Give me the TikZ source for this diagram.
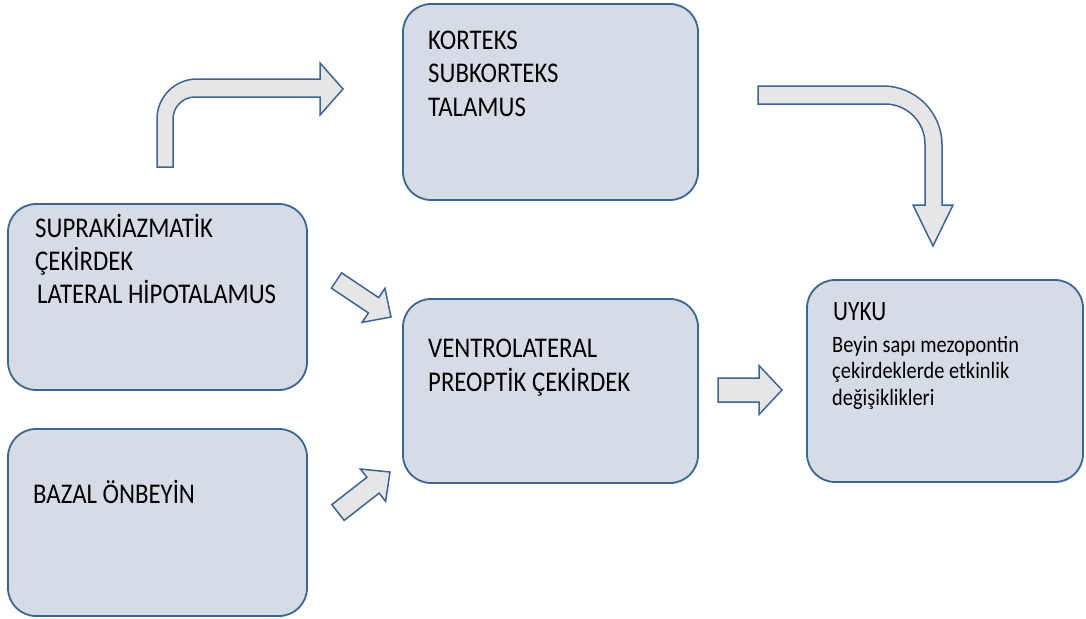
\documentclass[tikz,border=0pt]{standalone}
\usepackage{fontspec}
\setmainfont{Carlito}
\usetikzlibrary{calc}
\definecolor{boxfill}{HTML}{D6DCE5}
\definecolor{boxline}{HTML}{3C6692}
\definecolor{arrfill}{HTML}{E7E6E6}
\newcommand\sy[1]{\scalebox{1}[1.15]{#1}}
\newcommand\blockarrow[5]{%
  \path coordinate (hb) at ($(#2)!#5!(#1)$);
  \draw[arr] ($(#1)!#3!90:(#2)$) -- ($(hb)!#3!-90:(#1)$) -- ($(hb)!#4!-90:(#1)$) -- (#2)
     -- ($(hb)!#4!90:(#1)$) -- ($(hb)!#3!90:(#1)$) -- ($(#1)!#3!-90:(#2)$) -- cycle;}
\begin{document}
\begin{tikzpicture}[x=1pt,y=-1pt,
  box/.style={draw=boxline, line width=1.8pt, fill=boxfill, rounded corners=28pt, inner sep=0pt},
  arr/.style={draw=boxline, line width=1.5pt, fill=arrfill, line join=miter},
  big/.style={anchor=base west, inner sep=0pt, align=left, font=\fontsize{24.8}{33.8}\selectfont},
  mid/.style={anchor=base west, inner sep=0pt, align=left, font=\fontsize{23.3}{28}\selectfont},
  small/.style={anchor=base west, inner sep=0pt, align=left, font=\fontsize{20.4}{26.75}\selectfont}]
\useasboundingbox (0,0) rectangle (1086,618);
\fill[white] (0,0) rectangle (1086,618);

% boxes
\node[box, minimum width=295pt, minimum height=196pt] (kor) at (550.5,102) {};
\node[box, minimum width=299pt, minimum height=186pt] (sup) at (157.5,297) {};
\node[box, minimum width=299pt, minimum height=187pt] (baz) at (157.5,522.5) {};
\node[box, minimum width=295pt, minimum height=184pt] (ven) at (550.5,391) {};
\node[box, minimum width=276pt, minimum height=202pt] (uyk) at (945,381) {};

% texts (anchor = baseline of the last line)
\node[big] (korT) at (428,116.7) {\sy{KORTEKS}\\\sy{SUBKORTEKS}\\\sy{TALAMUS}};
\node[big, font=\fontsize{24.8}{33}\selectfont] (supT) at (35,303) {\sy{SUPRAKİAZMATİK}\\\sy{ÇEKİRDEK}\\\hspace*{2pt}\sy{LATERAL HİPOTALAMUS}};
\node[big] (bazT) at (33,503) {\sy{BAZAL ÖNBEYİN}};
\node[big, font=\fontsize{24.8}{34}\selectfont] (venT) at (428,391) {\sy{VENTROLATERAL}\\\sy{PREOPTİK ÇEKİRDEK}};
\node[mid] (uykT) at (833,320.5) {\scalebox{1}[1.2]{UYKU}};
\node[small] (uykS) at (832,405.5) {\sy{Beyin sapı mezopontin}\\\sy{çekirdeklerde etkinlik}\\\sy{değişiklikleri}};

% bent arrow: up and right
\draw[arr] (157,167) -- (157,119) .. controls (157,96.9) and (174.9,79) .. (197,79)
  -- (320,79) -- (320,63) -- (343,89) -- (320,115) -- (320,97) -- (195,97)
  .. controls (182.8,97) and (173,106.8) .. (173,119) -- (173,167) -- cycle;

% bent arrow: right and down
\draw[arr] (758,86) -- (883,86) .. controls (915.6,86) and (942,112.4) .. (942,145)
  -- (942,205) -- (953,205) -- (933,246) -- (913,205) -- (925,205) -- (925,144)
  .. controls (925,121.9) and (907.1,104) .. (885,104) -- (758,104) -- cycle;

% straight block arrows
\coordinate (a1t) at (336.5,280.5); \coordinate (a1h) at (391,317);
\coordinate (a2t) at (338,512.5);   \coordinate (a2h) at (390,472);
\coordinate (a3t) at (718,390);     \coordinate (a3h) at (782,390);
\blockarrow{a1t}{a1h}{9.2pt}{20.5pt}{21pt}
\blockarrow{a2t}{a2h}{10pt}{20.5pt}{21.5pt}
\blockarrow{a3t}{a3h}{12pt}{24.5pt}{23pt}
\end{tikzpicture}
\end{document}
